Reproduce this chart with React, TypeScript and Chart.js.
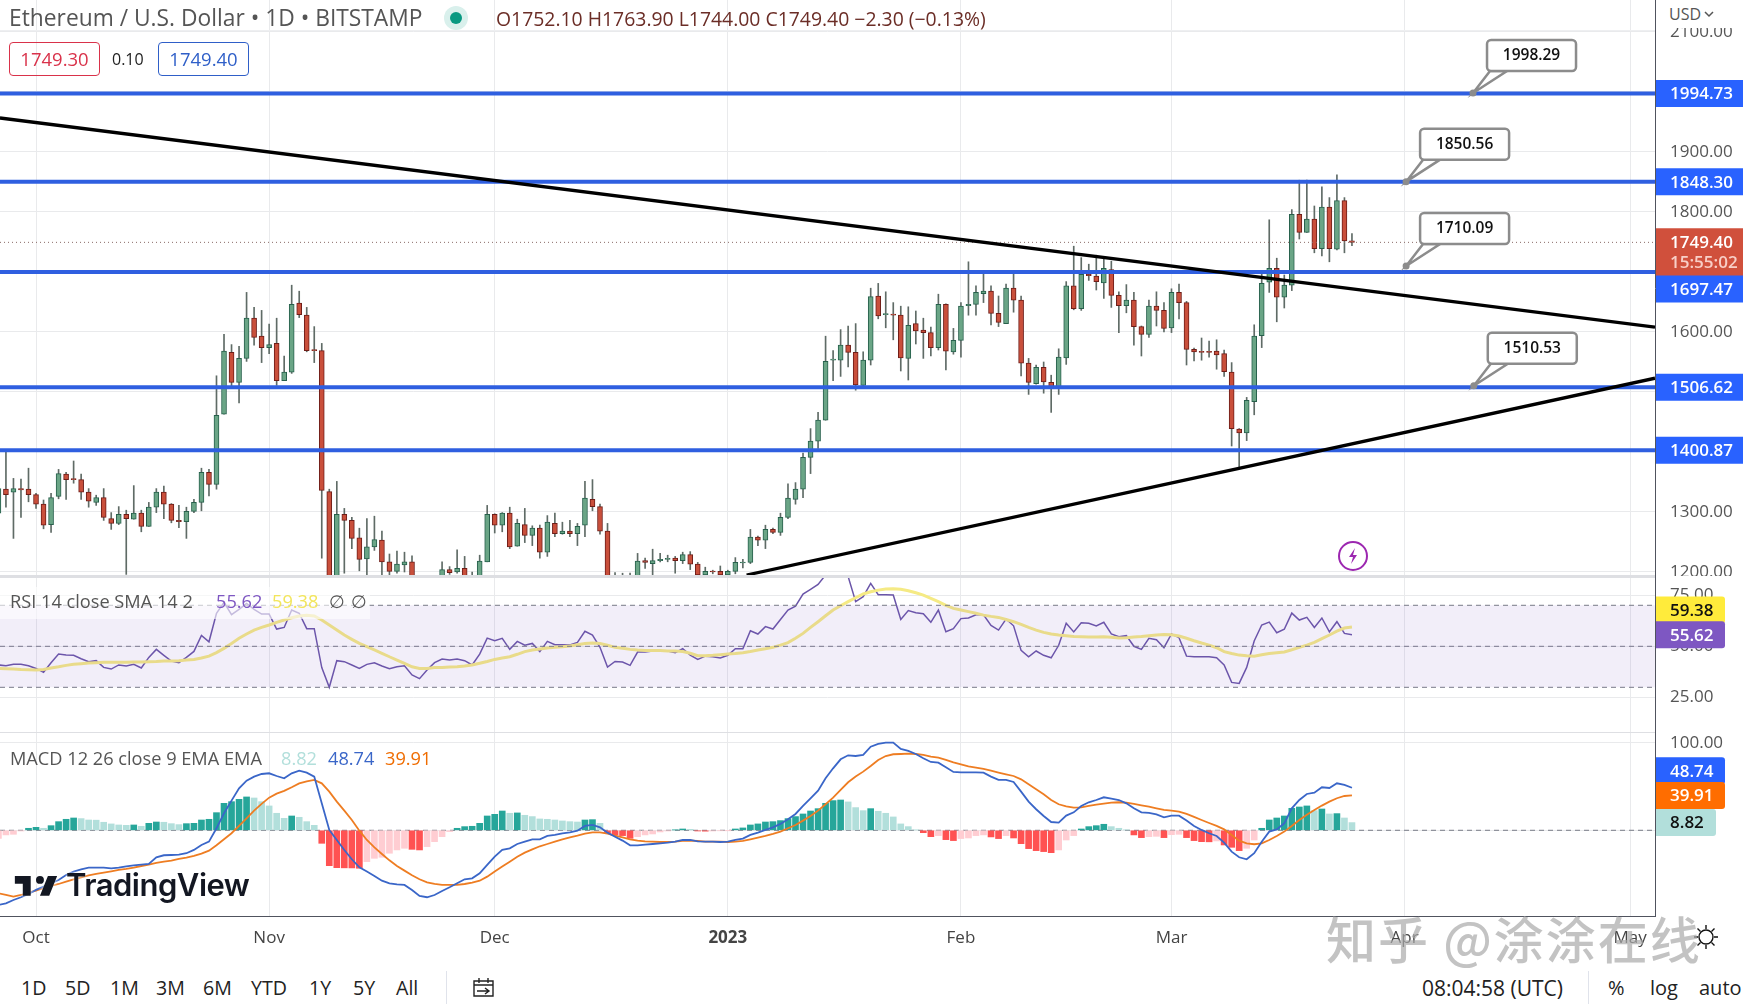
import { useEffect, useRef } from "react";
import { Chart, registerables } from "chart.js";

Chart.register(...registerables);

const FONT = '"Open Sans", sans-serif';

// daily bars, first one is 5 days before Oct 1 2022
const firstDay = -5;
const opens = [
  1298, 1338, 1333, 1339, 1338,
  1329, 1313, 1279, 1326, 1363, 1355, 1354, 1333, 1316, 1324,
  1289, 1281, 1296, 1288, 1298, 1276, 1308, 1333, 1313, 1286,
  1284, 1301, 1316, 1366, 1346, 1463, 1566, 1516, 1556, 1623,
  1593, 1574, 1581, 1519, 1533, 1648, 1628, 1570, 1569, 1334,
  1100, 1296, 1286, 1257, 1222, 1242, 1253, 1217, 1201, 1212,
  1217, 1170, 1165, 1175, 1170, 1204, 1200, 1206, 1180, 1165,
  1217, 1296, 1278, 1298, 1243, 1279, 1261, 1273, 1233, 1281,
  1264, 1268, 1264, 1278, 1321, 1309, 1268, 1170, 1175, 1170,
  1175, 1219, 1214, 1219, 1221, 1223, 1219, 1229, 1213, 1195,
  1201, 1201, 1195, 1201, 1215, 1216, 1258, 1253, 1271, 1266,
  1291, 1321, 1338, 1391, 1418, 1453, 1553, 1553, 1578, 1566,
  1511, 1553, 1660, 1629, 1629, 1628, 1556, 1614, 1603, 1599,
  1574, 1646, 1567, 1586, 1644, 1646, 1664, 1668, 1631, 1614,
  1673, 1653, 1548, 1514, 1541, 1516, 1507, 1557, 1677, 1639,
  1696, 1693, 1682, 1704, 1661, 1644, 1653, 1609, 1596, 1643,
  1636, 1607, 1666, 1649, 1571, 1567, 1567, 1568, 1564, 1533,
  1438, 1432, 1484, 1594, 1683, 1706, 1658, 1678, 1796, 1766,
  1788, 1739, 1808, 1738, 1819, 1752.1,
];
const highs = [
  1345, 1403, 1356, 1355, 1373,
  1331, 1320, 1331, 1371, 1366, 1385, 1363, 1339, 1328, 1339,
  1299, 1309, 1303, 1344, 1303, 1316, 1339, 1343, 1314, 1311,
  1308, 1321, 1373, 1371, 1527, 1596, 1579, 1576, 1666, 1641,
  1636, 1613, 1623, 1560, 1678, 1668, 1641, 1609, 1581, 1338,
  1351, 1306, 1291, 1273, 1289, 1293, 1268, 1230, 1235, 1233,
  1227, 1180, 1185, 1188, 1217, 1209, 1237, 1226, 1200, 1228,
  1311, 1297, 1299, 1308, 1288, 1306, 1277, 1278, 1294, 1298,
  1283, 1286, 1281, 1351, 1354, 1313, 1281, 1199, 1198, 1198,
  1231, 1223, 1238, 1231, 1228, 1226, 1233, 1234, 1216, 1208,
  1203, 1210, 1203, 1224, 1221, 1271, 1260, 1278, 1273, 1298,
  1347, 1349, 1398, 1439, 1466, 1593, 1569, 1604, 1610, 1614,
  1567, 1673, 1681, 1667, 1649, 1643, 1642, 1635, 1623, 1608,
  1663, 1647, 1606, 1649, 1717, 1677, 1698, 1677, 1660, 1680,
  1698, 1660, 1556, 1545, 1550, 1528, 1572, 1684, 1743, 1724,
  1713, 1728, 1722, 1718, 1667, 1679, 1666, 1610, 1653, 1667,
  1649, 1672, 1680, 1651, 1573, 1590, 1585, 1587, 1570, 1549,
  1439, 1491, 1612, 1697, 1787, 1723, 1695, 1804, 1853, 1853,
  1810, 1842, 1824, 1862, 1824, 1763.9,
];
const lows = [
  1290, 1308, 1256, 1291, 1317,
  1306, 1272, 1266, 1322, 1321, 1348, 1321, 1308, 1311, 1286,
  1271, 1279, 1196, 1288, 1267, 1276, 1299, 1289, 1282, 1274,
  1256, 1299, 1302, 1327, 1338, 1463, 1509, 1482, 1551, 1578,
  1549, 1564, 1511, 1519, 1531, 1624, 1567, 1549, 1223, 1080,
  1085, 1198, 1239, 1202, 1190, 1236, 1190, 1185, 1198, 1200,
  1160, 1150, 1155, 1160, 1160, 1196, 1198, 1160, 1150, 1155,
  1217, 1265, 1267, 1239, 1243, 1249, 1244, 1223, 1226, 1259,
  1263, 1259, 1244, 1259, 1302, 1263, 1160, 1160, 1160, 1160,
  1165, 1206, 1195, 1217, 1217, 1198, 1214, 1204, 1185, 1190,
  1197, 1190, 1192, 1197, 1207, 1214, 1244, 1239, 1264, 1261,
  1289, 1313, 1324, 1364, 1406, 1453, 1519, 1526, 1542, 1503,
  1511, 1545, 1622, 1607, 1587, 1535, 1520, 1580, 1556, 1560,
  1570, 1537, 1563, 1558, 1628, 1628, 1649, 1612, 1609, 1614,
  1633, 1527, 1496, 1513, 1498, 1466, 1496, 1546, 1637, 1636,
  1686, 1670, 1656, 1641, 1599, 1632, 1578, 1560, 1591, 1610,
  1600, 1599, 1622, 1545, 1552, 1553, 1558, 1538, 1526, 1410,
  1373, 1419, 1462, 1574, 1666, 1617, 1640, 1669, 1755, 1766,
  1732, 1727, 1717, 1737, 1732, 1744,
];
const closes = [
  1339, 1329, 1339, 1337, 1329,
  1313, 1278, 1324, 1364, 1354, 1354, 1333, 1318, 1324, 1291,
  1281, 1296, 1289, 1298, 1276, 1308, 1333, 1313, 1286, 1284,
  1301, 1316, 1366, 1346, 1461, 1568, 1516, 1556, 1623, 1591,
  1574, 1579, 1519, 1533, 1646, 1629, 1569, 1569, 1336, 1100,
  1296, 1286, 1256, 1221, 1242, 1254, 1217, 1201, 1213, 1217,
  1170, 1165, 1175, 1170, 1204, 1199, 1206, 1170, 1165, 1218,
  1296, 1278, 1298, 1242, 1281, 1261, 1273, 1233, 1283, 1264,
  1268, 1264, 1276, 1323, 1309, 1268, 1170, 1175, 1170, 1175,
  1218, 1216, 1219, 1221, 1222, 1219, 1229, 1213, 1195, 1201,
  1200, 1195, 1201, 1216, 1216, 1258, 1253, 1271, 1266, 1291,
  1323, 1338, 1391, 1418, 1453, 1551, 1554, 1578, 1566, 1512,
  1553, 1659, 1627, 1630, 1628, 1557, 1611, 1602, 1599, 1574,
  1646, 1568, 1586, 1643, 1646, 1666, 1668, 1631, 1616, 1673,
  1653, 1548, 1516, 1541, 1517, 1507, 1558, 1677, 1639, 1696,
  1694, 1684, 1706, 1661, 1644, 1653, 1609, 1596, 1643, 1636,
  1606, 1666, 1649, 1571, 1567, 1566, 1566, 1562, 1534, 1439,
  1432, 1486, 1593, 1681, 1706, 1658, 1678, 1796, 1766, 1788,
  1739, 1808, 1739, 1819, 1752, 1749.4,
];

const rsi = [
  40.9, 40.5, 41.2, 41.2, 40.5,
  39.2, 37.3, 42.0, 46.2, 45.7, 45.6, 43.9, 42.5, 43.0, 39.7,
  38.9, 40.9, 40.4, 41.2, 39.4, 44.6, 48.5, 45.6, 42.8, 42.0,
  44.6, 47.5, 55.3, 52.2, 66.1, 71.4, 65.4, 68.0, 70.9, 68.0,
  65.7, 65.7, 58.4, 59.2, 67.7, 66.1, 58.6, 58.6, 39.6, 30.0,
  43.0, 42.5, 40.9, 39.2, 41.2, 42.0, 40.4, 39.1, 40.0, 40.5,
  36.0, 34.2, 38.4, 42.0, 43.8, 43.3, 43.8, 43.0, 40.9, 46.2,
  54.0, 52.7, 53.9, 48.5, 52.4, 50.5, 51.4, 47.4, 52.4, 50.8,
  50.8, 50.6, 51.9, 57.3, 55.5, 49.5, 39.9, 42.6, 42.3, 40.7,
  47.2, 47.2, 47.7, 47.7, 47.7, 46.9, 48.8, 45.7, 43.6, 45.2,
  44.9, 44.3, 45.6, 48.8, 48.8, 57.6, 56.0, 59.6, 58.4, 63.1,
  67.7, 69.6, 75.5, 77.8, 80.2, 84.8, 90.0, 90.0, 84.0, 71.8,
  74.2, 80.7, 75.2, 75.2, 75.0, 63.1, 67.4, 66.4, 65.9, 61.7,
  67.7, 57.1, 58.6, 63.5, 63.8, 65.4, 65.4, 60.2, 57.9, 63.3,
  60.0, 48.0, 44.9, 47.7, 45.6, 44.4, 50.5, 61.2, 57.0, 61.5,
  61.2, 59.9, 61.7, 56.0, 54.7, 55.2, 50.0, 48.5, 53.9, 53.2,
  49.3, 56.0, 54.2, 45.2, 44.9, 44.9, 44.9, 44.4, 40.9, 32.4,
  31.9, 39.7, 52.6, 60.4, 61.8, 56.6, 58.3, 66.2, 62.8, 64.1,
  59.2, 63.8, 57.0, 62.0, 56.3, 55.62,
];
const rsiSma = [
  39.2, 39.1, 38.9, 38.7, 38.6,
  38.4, 38.7, 39.4, 40.0, 40.7, 41.2, 41.5, 41.8, 42.0, 42.2,
  42.2, 42.2, 42.2, 42.3, 42.3, 42.5, 42.6, 42.8, 42.8, 43.0,
  43.3, 43.6, 44.3, 45.2, 46.9, 49.0, 51.4, 53.9, 56.0, 57.9,
  59.2, 60.4, 61.7, 62.8, 63.9, 64.8, 65.1, 64.8, 62.8, 60.4,
  57.9, 55.5, 53.4, 51.4, 49.8, 48.2, 46.6, 44.9, 43.3, 41.7,
  40.0, 39.2, 39.2, 39.6, 39.7, 39.9, 40.0, 40.4, 40.9, 41.7,
  42.6, 43.6, 44.3, 44.9, 46.1, 47.4, 48.2, 48.7, 49.2, 49.5,
  49.8, 50.1, 50.8, 51.4, 51.6, 51.4, 50.5, 49.5, 49.0, 48.5,
  48.2, 48.0, 47.9, 47.9, 47.7, 47.7, 47.5, 46.6, 45.4, 45.4,
  45.6, 45.9, 46.2, 46.5, 46.9, 47.5, 48.2, 48.8, 49.5, 50.6,
  51.8, 53.9, 56.3, 59.2, 62.0, 64.9, 67.7, 69.8, 71.8, 73.7,
  75.5, 76.6, 77.4, 77.9, 78.1, 77.8, 77.1, 76.1, 75.0, 73.4,
  71.8, 70.0, 68.5, 67.7, 66.9, 66.1, 65.2, 64.6, 64.1, 63.1,
  62.0, 60.7, 59.2, 57.9, 56.8, 56.0, 55.5, 55.2, 54.8, 54.7,
  54.5, 54.5, 54.7, 54.4, 54.0, 54.2, 54.5, 54.8, 55.2, 55.5,
  55.8, 55.6, 55.0, 53.9, 52.7, 51.6, 50.6, 49.3, 47.4, 46.5,
  45.7, 45.4, 45.2, 45.9, 46.5, 46.9, 47.2, 48.3, 49.5, 50.6,
  51.9, 53.7, 55.5, 57.4, 58.9, 59.38,
];

const macd = [
  -85.5, -83.6, -79.8, -76.7, -72.9,
  -68.3, -64.5, -60.7, -56.9, -51.2, -47.3, -44.7, -42.8, -42.8, -42.8,
  -43.5, -42.8, -41.2, -40.1, -39.3, -38.6, -30.9, -28.6, -28.3, -27.9,
  -26.3, -22.5, -16.8, -13.0, 2.3, 19.5, 34.0, 48.1, 56.9, 61.5,
  64.5, 65.3, 62.2, 59.6, 65.3, 68.3, 66.1, 61.5, 30.9, 0.4,
  -11.1, -22.5, -33.2, -42.4, -47.3, -52.3, -57.7, -60.7, -61.9, -62.6,
  -68.3, -75.2, -76.7, -74.1, -69.5, -65.3, -60.7, -56.1, -55.0, -49.3,
  -39.7, -30.2, -22.5, -20.6, -15.7, -13.0, -10.3, -10.3, -6.5, -5.3,
  -3.4, -2.3, -0.4, 5.0, 6.1, 3.4, -2.7, -7.3, -11.8, -17.2,
  -17.2, -16.4, -15.7, -14.9, -14.1, -13.0, -11.1, -11.1, -12.6, -13.0,
  -13.0, -13.4, -13.0, -11.1, -9.5, -5.3, -2.7, 0.4, 3.4, 7.3,
  12.6, 18.7, 27.9, 36.7, 45.4, 59.6, 71.0, 81.3, 85.9, 85.1,
  86.3, 95.8, 98.9, 100.4, 100.4, 93.2, 90.9, 87.4, 82.5, 78.3,
  77.5, 72.2, 66.8, 66.4, 66.4, 66.4, 66.1, 61.5, 57.7, 57.7,
  55.4, 44.3, 32.8, 24.1, 16.4, 9.5, 8.8, 16.8, 20.6, 27.9,
  32.1, 34.7, 37.8, 36.3, 34.7, 30.9, 25.2, 20.6, 19.9, 18.3,
  14.9, 16.8, 16.8, 11.1, 5.0, 0.4, -3.4, -6.5, -14.1, -24.4,
  -30.9, -33.2, -26.3, -13.0, -1.5, 1.1, 8.0, 25.2, 34.7, 41.6,
  43.1, 49.3, 48.5, 53.8, 51.9, 48.74,
];
const macdSignal = [
  -72.2, -74.1, -76.0, -74.1, -71.4,
  -69.1, -66.4, -63.8, -61.5, -58.8, -56.1, -53.8, -51.5, -50.0, -48.5,
  -47.0, -45.4, -44.3, -42.8, -40.9, -39.3, -37.4, -35.9, -34.7, -32.8,
  -31.3, -29.4, -26.7, -23.3, -17.2, -10.3, -3.4, 5.0, 13.7, 22.5,
  30.2, 37.4, 42.0, 45.1, 49.3, 53.8, 56.1, 57.7, 53.8, 44.3,
  32.8, 22.5, 11.8, -0.4, -11.1, -19.5, -27.1, -34.4, -40.9, -46.2,
  -51.5, -56.1, -59.6, -61.5, -62.6, -62.6, -62.6, -61.5, -59.9, -57.7,
  -53.1, -47.3, -41.6, -35.9, -30.2, -25.6, -21.8, -18.3, -15.7, -13.0,
  -10.3, -8.0, -6.1, -3.8, -2.3, -2.3, -3.8, -6.1, -8.0, -10.3,
  -11.8, -12.6, -13.0, -13.4, -13.4, -13.0, -12.2, -11.8, -12.2, -13.0,
  -13.0, -13.0, -13.4, -13.0, -12.2, -10.3, -8.4, -6.5, -4.2, -1.5,
  2.3, 6.1, 11.1, 16.4, 22.5, 29.8, 37.4, 46.2, 55.0, 61.5,
  67.2, 73.7, 80.6, 85.1, 87.1, 87.4, 87.8, 87.4, 86.3, 84.4,
  83.2, 80.6, 77.9, 75.6, 73.3, 71.8, 70.3, 68.3, 66.1, 64.1,
  62.2, 58.4, 52.7, 47.0, 41.2, 34.7, 29.8, 27.5, 26.0, 26.3,
  27.9, 29.4, 30.5, 31.7, 32.1, 31.7, 30.2, 28.6, 27.1, 25.2,
  23.3, 22.5, 21.4, 18.7, 15.3, 11.8, 8.4, 5.0, 1.1, -5.3,
  -11.8, -14.9, -16.0, -14.9, -11.1, -6.5, -1.5, 5.0, 11.8, 17.9,
  23.3, 28.3, 32.8, 36.7, 39.3, 39.91,
];
const macdHist = [
  -9.2, -5.3, -4.6, -0.8, 2.3,
  3.4, 2.3, 5.3, 9.9, 12.6, 14.1, 13.4, 11.8, 11.6, 9.2,
  7.3, 6.1, 5.7, 6.1, 4.6, 8.0, 9.5, 9.2, 7.6, 6.5,
  7.6, 8.0, 11.8, 12.6, 20.2, 30.9, 32.8, 35.5, 38.2, 37.0,
  32.8, 27.9, 19.5, 13.7, 16.4, 14.9, 9.9, 5.7, -14.9, -40.5,
  -42.8, -43.0, -43.1, -43.5, -35.9, -32.1, -30.9, -26.3, -22.5, -20.6,
  -21.8, -22.5, -18.7, -13.0, -7.3, -1.5, 2.3, 4.2, 4.6, 8.0,
  16.4, 18.3, 22.1, 19.5, 19.9, 17.2, 15.7, 13.0, 12.6, 11.8,
  10.7, 9.9, 9.5, 11.8, 12.2, 8.0, -3.4, -5.3, -6.1, -9.2,
  -7.3, -5.3, -4.2, -1.9, -0.8, 0.4, 1.5, 1.1, -0.8, -1.0,
  -0.8, -0.4, -0.2, 1.5, 2.7, 6.1, 7.3, 9.5, 9.9, 11.1,
  13.4, 15.7, 18.7, 22.1, 24.8, 30.9, 34.0, 34.7, 32.5, 26.0,
  22.5, 24.8, 21.8, 19.5, 15.3, 7.3, 4.2, 0.4, -2.7, -7.3,
  -6.1, -10.7, -11.8, -9.5, -8.8, -6.1, -5.3, -7.6, -9.5, -6.1,
  -8.8, -15.3, -21.0, -23.3, -24.4, -25.6, -22.5, -11.1, -6.1, 1.5,
  4.2, 5.3, 6.9, 4.2, 2.3, 0.4, -5.3, -8.4, -7.3, -6.9,
  -8.4, -5.0, -4.6, -8.4, -11.8, -13.0, -13.2, -12.2, -16.8, -19.5,
  -23.3, -20.6, -11.1, 2.3, 11.8, 14.1, 16.4, 25.2, 26.7, 27.9,
  22.5, 24.4, 18.7, 19.1, 14.1, 8.82,
];

// drawn levels and the labels they carry on the price scale
const levelPrices = [1997.5, 1850.5, 1700, 1508, 1403];
const levelLabels = ["1994.73", "1848.30", "1697.47", "1506.62", "1400.87"];
const lastClose = 1749.4;
const countdown = "15:55:02";

// trend lines as [day, price] pairs
const fallingTrend = [[-4.8, 1956.7], [215.3, 1608]];
const risingTrend = [[94.5, 1195], [215.3, 1523]];

const calloutDays = [191.1, 182.2, 182.2, 191.2];
const calloutPrices = [1998.29, 1850.56, 1710.09, 1510.53];

const monthDays = [0, 31, 61, 92, 123, 151, 182, 212];
const monthLabels = ["Oct", "Nov", "Dec", "2023", "Feb", "Mar", "Apr", "May"];

const priceTicks = [1200, 1300, 1400, 1500, 1600, 1700, 1800, 1900, 2000, 2100];
const rsiTicks = [25, 50, 75];
const rsiBands = [70, 50, 30];
const macdTicks = [0, 100];

const xMin = -4.79;
const xMax = 215.3;
const GRID = "#e9eaec";
const AXIS = "#50535e";
const TICK = "#555";

const days = opens.map((_, i) => i + firstDay);
const series = (values: number[]) => values.map((y, i) => ({ x: days[i], y }));
const across = (y: number) => [{ x: xMin, y }, { x: xMax, y }];
const toPoints = (pairs: number[][]) => pairs.map(([x, y]) => ({ x, y }));

const xAxis = (showLabels = false) => ({
  type: "linear",
  offset: false,
  min: xMin,
  max: xMax,
  afterBuildTicks: (s: any) => {
    s.ticks = monthDays.map((value) => ({ value }));
  },
  afterFit: (s: any) => {
    s.height = showLabels ? 42 : 0;
    s.paddingLeft = 0;
    s.paddingRight = 0;
  },
  grid: { color: GRID, drawTicks: false, offset: false },
  border: showLabels ? { color: AXIS } : { display: false },
  ticks: {
    display: showLabels,
    autoSkip: false,
    maxRotation: 0,
    padding: 12,
    color: "#444",
    callback: (v: any) => monthLabels[monthDays.indexOf(v)],
    font: (c: any) => ({
      family: FONT,
      size: 17,
      weight: c.tick && c.tick.value === 92 ? "700" : "400",
    }),
  },
});

const yAxis = (min: number, max: number, values: number[]) => ({
  position: "right",
  min,
  max,
  afterBuildTicks: (s: any) => {
    s.ticks = values.map((value) => ({ value }));
  },
  afterFit: (s: any) => {
    s.width = 88;
    s.paddingTop = 0;
    s.paddingBottom = 0;
  },
  grid: { color: GRID, drawTicks: false },
  border: { color: AXIS },
  ticks: {
    autoSkip: false,
    padding: 15,
    color: TICK,
    font: { family: FONT, size: 17 },
    callback: (v: any) => Number(v).toFixed(2),
  },
});

const baseOptions = (scales: any) => ({
  responsive: false,
  animation: false,
  events: [],
  layout: { padding: 0, autoPadding: false },
  plugins: { legend: { display: false }, tooltip: { enabled: false } },
  scales,
});

// coloured labels on the price scale
const tagPlugin = (items: any[]) => ({
  id: "tags",
  afterDraw(chart: any) {
    const { ctx, scales, chartArea } = chart;
    ctx.save();
    items.forEach((t) => {
      const y = scales.y.getPixelForValue(t.value) + (t.shift || 0);
      const h = t.sub ? 48 : 27;
      const top = t.sub ? y - 14 : y - h / 2;
      ctx.fillStyle = t.bg;
      ctx.beginPath();
      ctx.roundRect(chartArea.right + 1, top, t.w, h, t.round ? [0, 3, 3, 0] : 0);
      ctx.fill();
      ctx.fillStyle = t.fg;
      ctx.textBaseline = "middle";
      ctx.font = `600 17px ${FONT}`;
      ctx.fillText(t.text, chartArea.right + 15, y + 1);
      if (t.sub) {
        ctx.fillStyle = "#f8cfc7";
        ctx.fillText(t.sub, chartArea.right + 15, y + 21);
      }
    });
    ctx.restore();
  },
});

// the small price notes hanging off the levels
const calloutPlugin = {
  id: "callouts",
  afterDatasetsDraw(chart: any) {
    const { ctx, scales } = chart;
    ctx.save();
    calloutPrices.forEach((price, i) => {
      const x = scales.x.getPixelForValue(calloutDays[i]);
      const y = scales.y.getPixelForValue(price);
      const bx = x + 14;
      const by = y - 53;
      ctx.lineWidth = 2.5;
      ctx.strokeStyle = "#8c8c8c";
      ctx.fillStyle = "#fff";
      ctx.beginPath();
      ctx.moveTo(x, y);
      ctx.lineTo(bx + 3, by + 31);
      ctx.lineTo(bx + 20, by + 31);
      ctx.closePath();
      ctx.fill();
      ctx.stroke();
      ctx.beginPath();
      ctx.roundRect(bx, by, 89, 31, 4);
      ctx.fill();
      ctx.stroke();
      ctx.beginPath();
      ctx.arc(x, y, 3.5, 0, Math.PI * 2);
      ctx.fillStyle = "#8c8c8c";
      ctx.fill();
      ctx.fillStyle = "#111";
      ctx.font = `600 15.5px ${FONT}`;
      ctx.textAlign = "center";
      ctx.textBaseline = "middle";
      ctx.fillText(price.toFixed(2), bx + 44.5, by + 16);
      ctx.textAlign = "left";
    });
    ctx.restore();
  },
};

const priceTags = [
  { value: levelPrices[0], text: levelLabels[0], bg: "#2962ff", fg: "#fff", w: 88 },
  { value: levelPrices[1], text: levelLabels[1], bg: "#2962ff", fg: "#fff", w: 88 },
  { value: lastClose, text: lastClose.toFixed(2), sub: countdown, bg: "#d0503c", fg: "#fff", w: 88 },
  { value: levelPrices[2], text: levelLabels[2], bg: "#2962ff", fg: "#fff", w: 88, shift: 17 },
  { value: levelPrices[3], text: levelLabels[3], bg: "#2962ff", fg: "#fff", w: 88 },
  { value: levelPrices[4], text: levelLabels[4], bg: "#2962ff", fg: "#fff", w: 88 },
];
const rsiTags = [
  { value: rsiSma[rsiSma.length - 1], text: "59.38", bg: "#ffeb3b", fg: "#111", w: 69, shift: -17, round: true },
  { value: rsi[rsi.length - 1], text: "55.62", bg: "#7e57c2", fg: "#fff", w: 69, round: true },
];
const macdTags = [
  { value: macd[macd.length - 1], text: "48.74", bg: "#2962ff", fg: "#fff", w: 69, shift: -17, round: true },
  { value: macdSignal[macdSignal.length - 1], text: "39.91", bg: "#ff6d00", fg: "#fff", w: 69, round: true },
  { value: macdHist[macdHist.length - 1], text: "8.82", bg: "#b2dfdb", fg: "#111", w: 60, round: true },
];

const histColor = (v: number, prev: number) => {
  if (v >= 0) return v >= prev ? "#26a69a" : "#b2dfdb";
  return v < prev ? "#ff5252" : "#ffcdd2";
};

const Label = ({ x, y, size = 18.2, color = "#444", weight = 400, children }: any) => (
  <div
    style={{
      position: "absolute",
      left: x,
      top: y,
      transform: "translateY(-50%)",
      fontSize: size,
      color,
      fontWeight: weight,
      whiteSpace: "nowrap",
      lineHeight: 1,
    }}
  >
    {children}
  </div>
);

const Box = ({ x, w, color, children }: any) => (
  <div
    style={{
      position: "absolute",
      left: x,
      top: 42,
      width: w,
      height: 34,
      boxSizing: "border-box",
      border: `1px solid ${color}`,
      borderRadius: 4,
      color,
      fontSize: 18.5,
      lineHeight: "31px",
      textAlign: "center",
    }}
  >
    {children}
  </div>
);

export default function App() {
  const mainRef: any = useRef(null);
  const rsiRef: any = useRef(null);
  const macdRef: any = useRef(null);

  useEffect(() => {
    const mainChart = new Chart(mainRef.current.getContext("2d"), {
      type: "bar",
      data: {
        datasets: [
          {
            data: days.map((x, i) => ({ x, y: [lows[i], highs[i]] })),
            barThickness: 1,
            grouped: false,
            backgroundColor: "#5f6b66",
            order: 6,
          },
          {
            data: days.map((x, i) => ({ x, y: [opens[i], closes[i]] })),
            barThickness: 5,
            grouped: false,
            minBarLength: 1,
            borderWidth: 1,
            borderSkipped: false,
            backgroundColor: days.map((_, i) => (closes[i] >= opens[i] ? "#6aa586" : "#c94f3b")),
            borderColor: days.map((_, i) => (closes[i] >= opens[i] ? "#27604c" : "#6e1d18")),
            order: 5,
          },
          {
            type: "line",
            data: across(lastClose),
            borderColor: "#8a6a66",
            borderWidth: 1,
            borderDash: [1, 3],
            pointRadius: 0,
            order: 4,
          },
          ...levelPrices.map((p) => ({
            type: "line",
            data: across(p),
            borderColor: "#2f5fe0",
            borderWidth: 4,
            pointRadius: 0,
            order: 2,
          })),
          ...[fallingTrend, risingTrend].map((t) => ({
            type: "line",
            data: toPoints(t),
            borderColor: "#000",
            borderWidth: 3.3,
            pointRadius: 0,
            order: 1,
          })),
        ],
      },
      options: baseOptions({ x: xAxis(), y: yAxis(1193.33, 2153.33, priceTicks) }),
      plugins: [calloutPlugin, tagPlugin(priceTags)],
    } as any);

    const rsiChart = new Chart(rsiRef.current.getContext("2d"), {
      type: "line",
      data: {
        datasets: [
          ...rsiBands.map((b, i) => ({
            data: across(b),
            borderColor: "#787b86",
            borderWidth: 1,
            borderDash: [5, 4],
            pointRadius: 0,
            backgroundColor: "rgba(126, 87, 194, 0.1)",
            fill: i === 0 ? { target: { value: rsiBands[2] } } : false,
          })),
          {
            data: series(rsiSma),
            borderColor: "#f5ea84",
            borderWidth: 3,
            pointRadius: 0,
          },
          {
            data: series(rsi),
            borderColor: "#6a55a8",
            borderWidth: 1.5,
            pointRadius: 0,
          },
        ],
      },
      options: baseOptions({ x: xAxis(), y: yAxis(7.71, 84.29, rsiTicks) }),
      plugins: [tagPlugin(rsiTags)],
    } as any);

    const macdChart = new Chart(macdRef.current.getContext("2d"), {
      type: "bar",
      data: {
        datasets: [
          {
            data: series(macdHist),
            barThickness: 6,
            backgroundColor: macdHist.map((v, i) => histColor(v, i ? macdHist[i - 1] : v)),
            order: 3,
          },
          {
            type: "line",
            data: across(0),
            borderColor: "#787b86",
            borderWidth: 1,
            borderDash: [5, 4],
            pointRadius: 0,
            order: 4,
          },
          {
            type: "line",
            data: series(macdSignal),
            borderColor: "#ee7d22",
            borderWidth: 1.8,
            pointRadius: 0,
            order: 2,
          },
          {
            type: "line",
            data: series(macd),
            borderColor: "#3a66c8",
            borderWidth: 1.8,
            pointRadius: 0,
            order: 1,
          },
        ],
      },
      options: baseOptions({ x: xAxis(true), y: yAxis(-98.17, 111.45, macdTicks) }),
      plugins: [tagPlugin(macdTags)],
    } as any);

    return () => {
      mainChart.destroy();
      rsiChart.destroy();
      macdChart.destroy();
    };
  }, []);

  const canvasStyle = (top: number): any => ({ position: "absolute", left: 0, top });

  return (
    <div
      style={{
        position: "fixed",
        left: 0,
        top: 0,
        width: 1743,
        height: 1008,
        overflow: "hidden",
        background: "#fff",
        fontFamily: FONT,
      }}
    >
      <canvas ref={mainRef} width={1743} height={576} style={canvasStyle(0)} />
      <canvas ref={rsiRef} width={1743} height={157} style={canvasStyle(576)} />
      <canvas ref={macdRef} width={1743} height={225} style={canvasStyle(733)} />

      {/* pane separators */}
      <div style={{ position: "absolute", left: 0, top: 575, width: 1655, height: 3, background: "#dedfe3" }} />
      <div style={{ position: "absolute", left: 0, top: 732, width: 1655, height: 1, background: "#dedfe3" }} />
      <div style={{ position: "absolute", left: 1656, top: 0, width: 87, height: 28, background: "#fff" }} />

      {/* header */}
      <div style={{ position: "absolute", left: 0, top: 30, width: 1655, height: 1, background: "#eeeff1" }} />
      <Label x={9} y={18} size={22.8} color="#555">
        Ethereum / U.S. Dollar • 1D • BITSTAMP
      </Label>
      <svg style={{ position: "absolute", left: 442, top: 4 }} width={28} height={28}>
        <circle cx={14} cy={14} r={12} fill="#d9f0ec" />
        <circle cx={14} cy={14} r={6} fill="#089981" />
      </svg>
      <Label x={496} y={19} size={19.4} color="#6b2d26">
        O1752.10 H1763.90 L1744.00 C1749.40 −2.30 (−0.13%)
      </Label>
      <Box x={9} w={91} color="#d9324a">1749.30</Box>
      <Label x={112} y={59} size={16} color="#222">0.10</Label>
      <Box x={158} w={91} color="#2f5fc8">1749.40</Box>
      <Label x={1669} y={14} size={16} color="#555">USD</Label>
      <svg style={{ position: "absolute", left: 1704, top: 10 }} width={10} height={8}>
        <path d="M1 2l4 4 4-4" fill="none" stroke="#555" strokeWidth={1.5} />
      </svg>

      {/* indicator legends */}
      <div style={{ position: "absolute", left: 0, top: 587, width: 370, height: 32, background: "rgba(255,255,255,0.6)" }} />
      <Label x={10} y={601} color="#555">RSI 14 close SMA 14 2</Label>
      <Label x={216} y={601} color="#7e57c2">55.62</Label>
      <Label x={272} y={601} color="#f2e55c">59.38</Label>
      <Label x={329} y={601} color="#555">∅</Label>
      <Label x={351} y={601} color="#555">∅</Label>
      <Label x={10} y={758} color="#555">MACD 12 26 close 9 EMA EMA</Label>
      <Label x={281} y={758} color="#b2dfdb">8.82</Label>
      <Label x={328} y={758} color="#3a66c8">48.74</Label>
      <Label x={385} y={758} color="#ef6c00">39.91</Label>

      {/* logo */}
      <svg
        style={{ position: "absolute", left: 12, top: 868, filter: "drop-shadow(0 0 2px #fff)" }}
        width={48}
        height={37}
        viewBox="0 0 36 28"
      >
        <path d="M14 6H2v6h6v9h6V6Zm14 15h-7l6-15h7l-6 15Zm-7-9a3 3 0 1 0 0-6 3 3 0 0 0 0 6Z" fill="#131722" />
      </svg>
      <div
        style={{
          position: "absolute",
          left: 66,
          top: 884,
          transform: "translateY(-50%)",
          fontFamily: "Inter, sans-serif",
          fontWeight: 600,
          fontSize: 31,
          color: "#131722",
          letterSpacing: -0.5,
          textShadow: "0 0 3px #fff",
        }}
      >
        TradingView
      </div>

      {/* lightning marker */}
      <svg style={{ position: "absolute", left: 1338, top: 541 }} width={30} height={30}>
        <circle cx={15} cy={15} r={14} fill="#fff" stroke="#9c27b0" strokeWidth={2} />
        <path d="M17 7l-6 9h4l-2 7 6-9h-4z" fill="#9c27b0" />
      </svg>

      {/* bottom toolbar */}
      {[
        ["1D", 21],
        ["5D", 65],
        ["1M", 110],
        ["3M", 156],
        ["6M", 203],
        ["YTD", 251],
        ["1Y", 309],
        ["5Y", 353],
        ["All", 396],
      ].map(([t, x]: any) => (
        <Label key={t} x={x} y={988} size={19.6} color="#222">{t}</Label>
      ))}
      <div style={{ position: "absolute", left: 446, top: 971, width: 1, height: 33, background: "#e0e3eb" }} />
      <svg style={{ position: "absolute", left: 471, top: 977 }} width={26} height={22} fill="none" stroke="#222" strokeWidth={1.4}>
        <path d="M3 4h19v15H3zM3 8h19M8 1v5M17 1v5M6 14h12M14 11l4 3-4 3" />
      </svg>
      <Label x={1422} y={988} size={21} color="#222">08:04:58 (UTC)</Label>
      <div style={{ position: "absolute", left: 1588, top: 971, width: 1, height: 33, background: "#e0e3eb" }} />
      <Label x={1608} y={988} size={20} color="#222">%</Label>
      <Label x={1650} y={988} size={20} color="#222">log</Label>
      <Label x={1699} y={988} size={20} color="#222">auto</Label>
      <svg style={{ position: "absolute", left: 1692, top: 923 }} width={28} height={28} fill="none" stroke="#111" strokeWidth={1.4}>
        <circle cx={14} cy={14} r={7} />
        <path d="M14 2v4M14 22v4M2 14h4M22 14h4M5.500 5.500l3 3M19.500 19.500l3 3M5.500 22.500l3-3M19.500 8.500l3-3" />
      </svg>

      {/* watermark */}
      <div
        style={{
          position: "absolute",
          left: 1326,
          top: 937,
          transform: "translateY(-50%)",
          fontFamily: '"Noto Sans CJK SC", sans-serif',
          fontSize: 50,
          fontWeight: 500,
          color: "rgba(170,170,170,0.7)",
          whiteSpace: "nowrap",
          letterSpacing: 2,
        }}
      >
        知乎 @涂涂在线
      </div>
    </div>
  );
}
